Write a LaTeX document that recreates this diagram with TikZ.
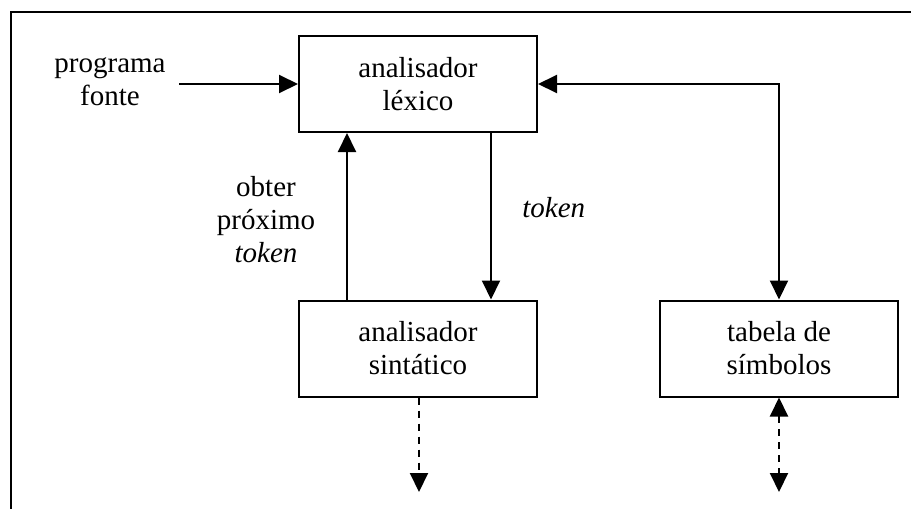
\documentclass[tikz,border=0pt]{standalone}
\usepackage{fontspec}
\setmainfont{Liberation Serif}
\usetikzlibrary{arrows.meta,calc}
\begin{document}
\begin{tikzpicture}[x=1pt,y=-1pt,
  line width=2pt,
  every node/.style={font=\fontsize{29}{33}\selectfont, align=center},
  blockbox/.style={draw, minimum width=238pt, minimum height=96pt, inner sep=0pt},
  tip/.style={-{Triangle[length=19pt,width=18pt]}},
  twotip/.style={{Triangle[length=19pt,width=18pt]}-{Triangle[length=19pt,width=18pt]}},
  dashline/.style={dash pattern=on 7pt off 6pt}
]
\useasboundingbox (0,0) rectangle (911,509);

% frame (top and left edges)
\draw (11,509) -- (11,12) -- (911,12);

% blocks
\node[blockbox] (lex) at (418,84) {analisador\\léxico};
\node[blockbox] (sin) at (418,348.5) {analisador\\sintático};
\node[blockbox] (tab) at (779,348.5) {tabela de\\símbolos};

% labels
\node (src) at (110,82) {programa\\fonte};
\node (ask) at (266,220) {obter\\próximo\\\textit{token}};
\node[anchor=west] (tok) at (518,208) {\textit{token}};

% free ends
\coordinate (srcend) at (179,84);
\coordinate (corner) at (779,84);
\coordinate (sinout) at (419,492);
\coordinate (tabout) at (779,492);

% connectors
\draw[tip] (srcend) -- (lex.west);
\draw[tip] (sin.north -| 347,0) -- (lex.south -| 347,0);
\draw[tip] (lex.south -| 491,0) -- (sin.north -| 491,0);
\draw[twotip] (lex.east) -- (corner) -- (tab.north);
\draw[tip,dashline] (sin.south -| sinout) -- (sinout);
\draw[twotip,dashline] (tab.south) -- (tabout);
\end{tikzpicture}
\end{document}
